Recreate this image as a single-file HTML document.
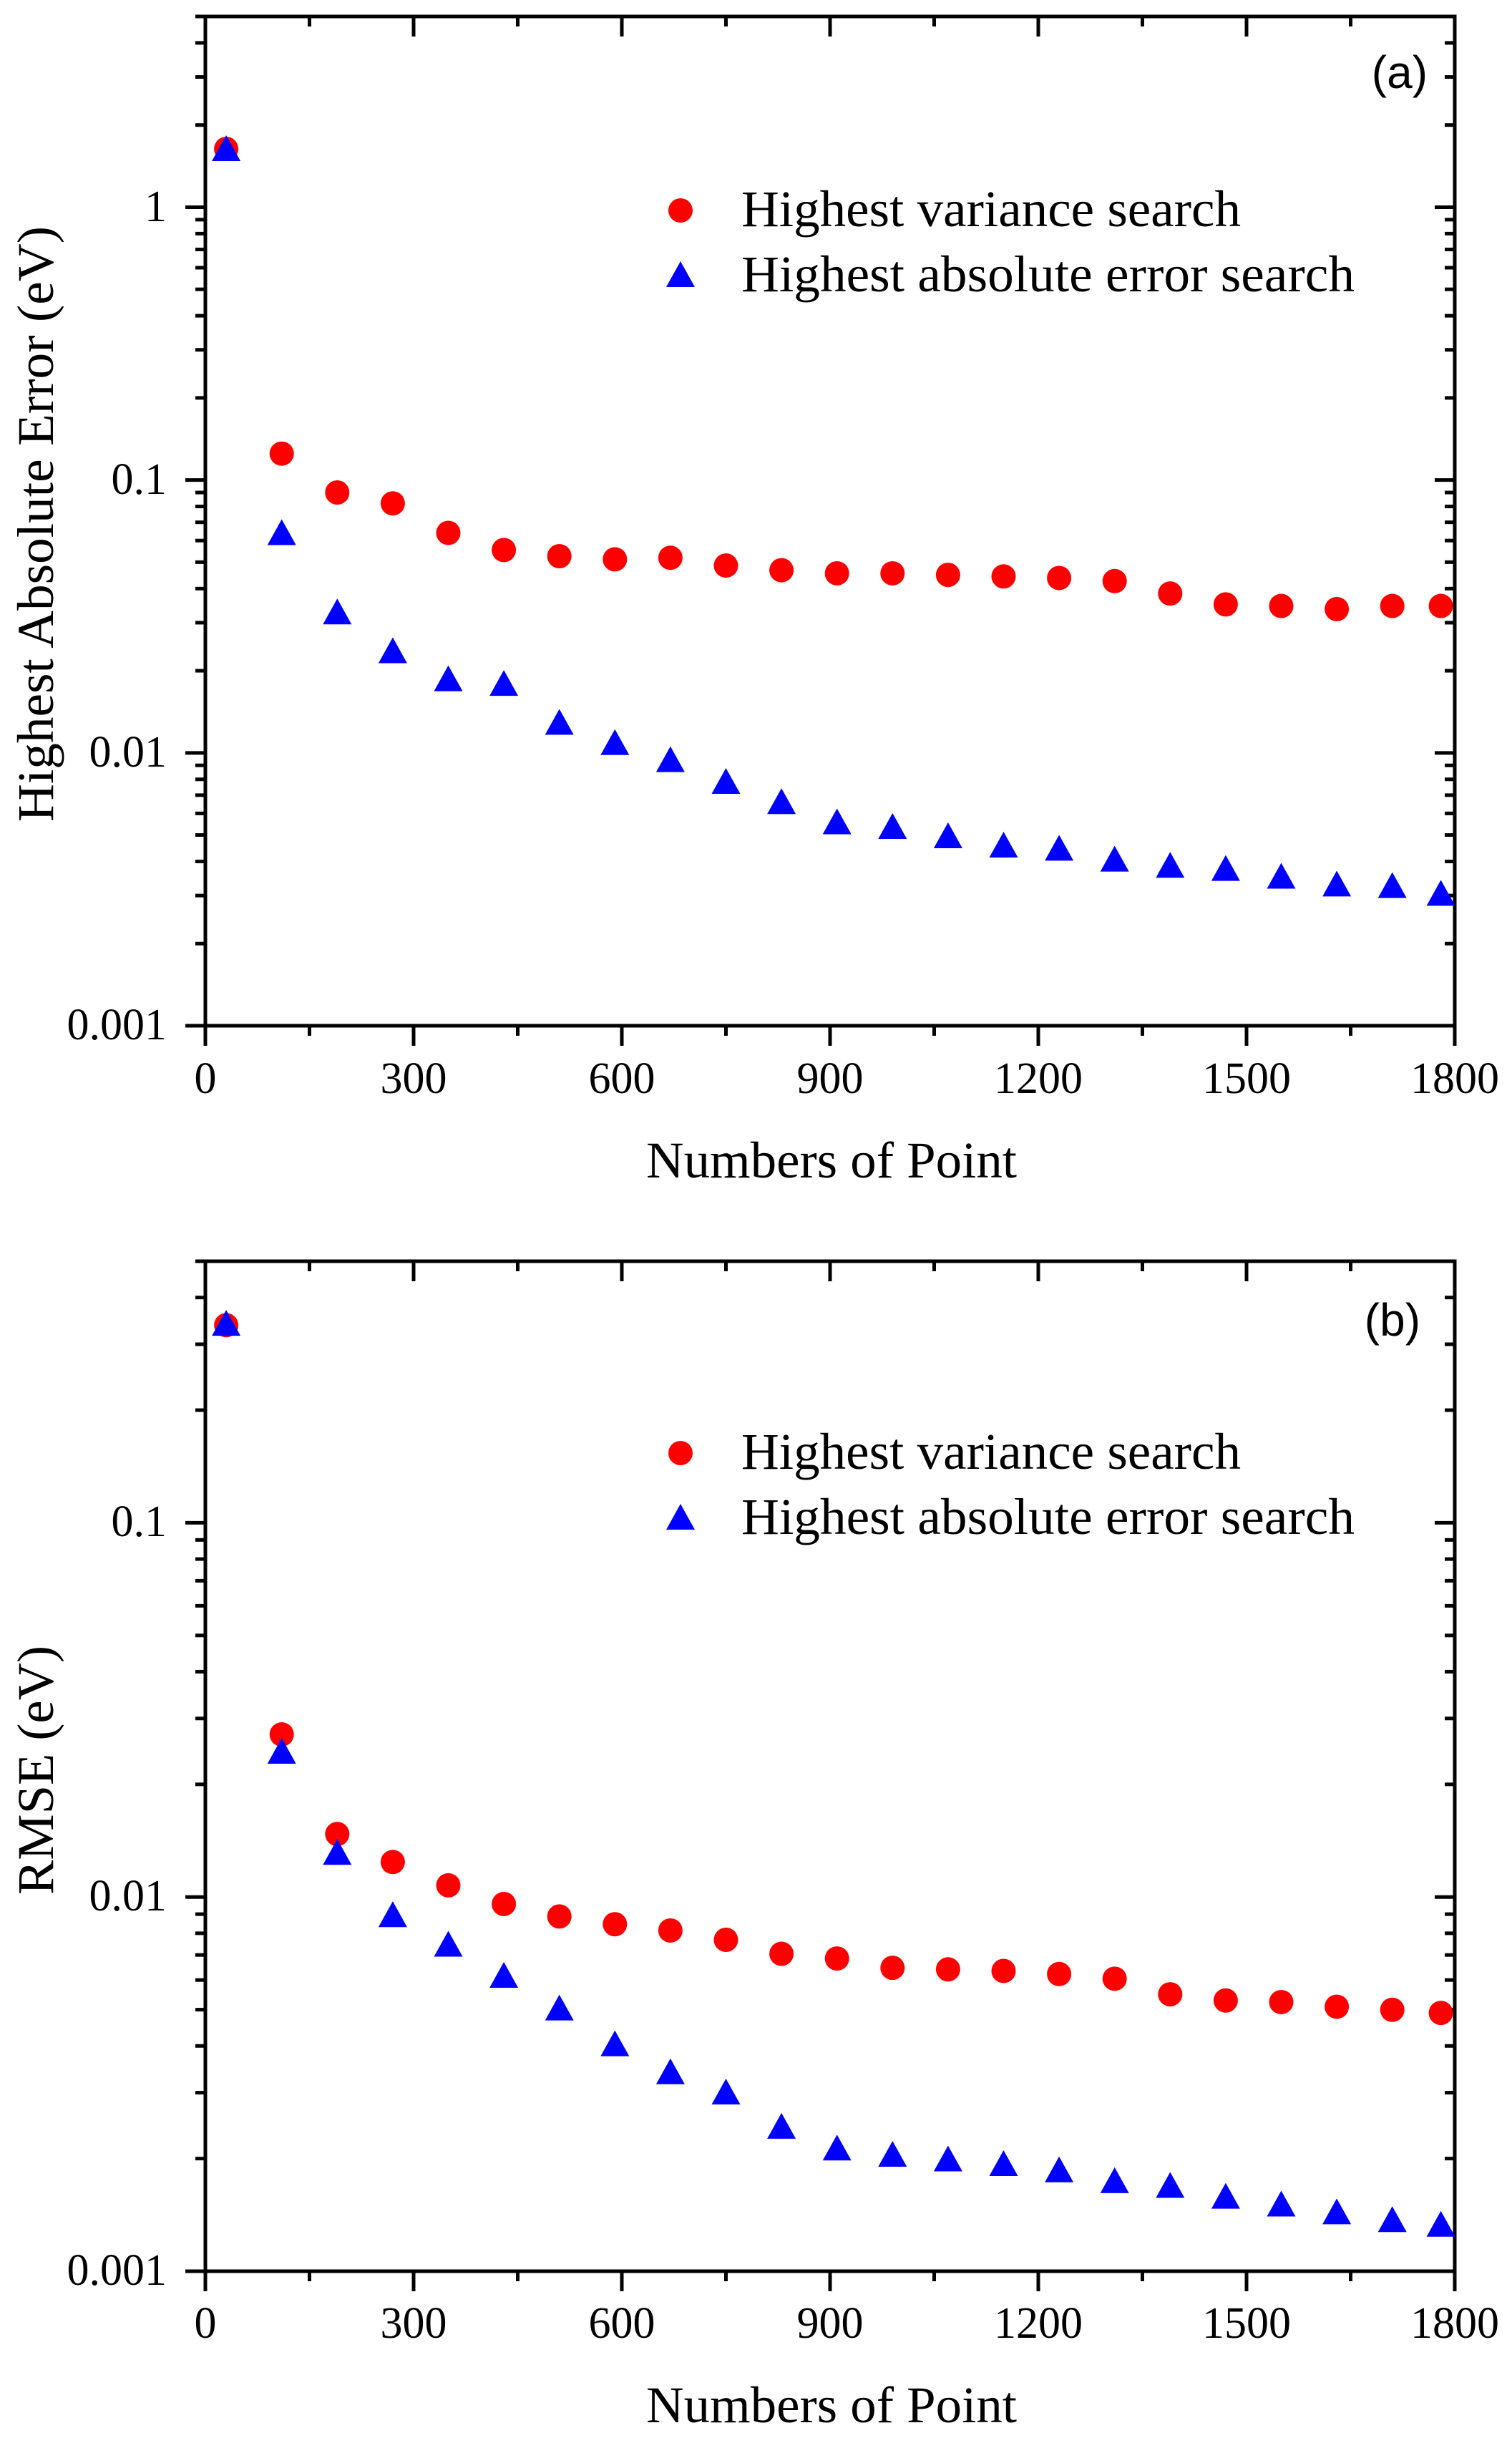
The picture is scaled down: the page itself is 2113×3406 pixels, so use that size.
<!DOCTYPE html>
<html><head><meta charset="utf-8"><style>
html,body{margin:0;padding:0;background:#fff}
svg{display:block}
text{font-family:"Liberation Serif",serif;fill:#000}
</style></head><body>
<svg id="s" width="2113" height="3406" viewBox="0 0 2113 3406" xmlns="http://www.w3.org/2000/svg">
<g id="ga"></g><g id="gb"></g>
<!-- panel a text -->
<g font-size="62" text-anchor="end">
<text x="233" y="1452">0.001</text>
<text x="233" y="1071">0.01</text>
<text x="233" y="690">0.1</text>
<text x="233" y="309">1</text>
</g>
<g font-size="62" text-anchor="middle">
<text x="287" y="1527">0</text><text x="578" y="1527">300</text><text x="869" y="1527">600</text>
<text x="1160" y="1527">900</text><text x="1451" y="1527">1200</text><text x="1742" y="1527">1500</text><text x="2033" y="1527">1800</text>
</g>
<text x="1162" y="1645" font-size="72" text-anchor="middle" textLength="518" lengthAdjust="spacingAndGlyphs">Numbers of Point</text>
<text transform="translate(74,732) rotate(-90)" font-size="72" text-anchor="middle" textLength="832" lengthAdjust="spacingAndGlyphs">Highest Absolute Error (eV)</text>
<text x="1995" y="123" font-size="64" text-anchor="end" style="font-family:'Liberation Sans',sans-serif">(a)</text>
<text x="1036" y="316" font-size="72" textLength="698" lengthAdjust="spacingAndGlyphs">Highest variance search</text>
<text x="1036" y="407" font-size="72" textLength="857" lengthAdjust="spacingAndGlyphs">Highest absolute error search</text>
<!-- panel b text -->
<g font-size="62" text-anchor="end">
<text x="233" y="3192">0.001</text>
<text x="233" y="2669">0.01</text>
<text x="233" y="2146">0.1</text>
</g>
<g font-size="62" text-anchor="middle">
<text x="287" y="3266">0</text><text x="578" y="3266">300</text><text x="869" y="3266">600</text>
<text x="1160" y="3266">900</text><text x="1451" y="3266">1200</text><text x="1742" y="3266">1500</text><text x="2033" y="3266">1800</text>
</g>
<text x="1162" y="3384" font-size="72" text-anchor="middle" textLength="518" lengthAdjust="spacingAndGlyphs">Numbers of Point</text>
<text transform="translate(74,2473) rotate(-90)" font-size="72" text-anchor="middle" textLength="348" lengthAdjust="spacingAndGlyphs">RMSE (eV)</text>
<text x="1985" y="1866" font-size="64" text-anchor="end" style="font-family:'Liberation Sans',sans-serif">(b)</text>
<text x="1036" y="2052" font-size="72" textLength="698" lengthAdjust="spacingAndGlyphs">Highest variance search</text>
<text x="1036" y="2143" font-size="72" textLength="857" lengthAdjust="spacingAndGlyphs">Highest absolute error search</text>
</svg>
<script>
var NS="http://www.w3.org/2000/svg";
function el(g,t,a){var e=document.createElementNS(NS,t);for(var k in a)e.setAttribute(k,a[k]);g.appendChild(e);return e;}
var X0=287,X1=2033;
function xp(v){return X0+(X1-X0)*v/1800;}
function panel(gid,top,bot,ymin,ymax,redT,bluT,thumbBot,thumbDec,legY){
  var g=document.getElementById(gid);
  var lmin=Math.log10(ymin),lmax=Math.log10(ymax);
  function yp(v){return bot-(bot-top)*(Math.log10(v)-lmin)/(lmax-lmin);}
  for(var d=-3;d<=0;d++){for(var m=1;m<=9;m++){var v=m*Math.pow(10,d);if(v<ymin-1e-12||v>ymax+1e-12)continue;
    var y=yp(v),L=(m==1)?28:14;
    el(g,"line",{x1:X0-L,y1:y,x2:X0,y2:y,stroke:"#000","stroke-width":5});
    el(g,"line",{x1:X1-L,y1:y,x2:X1,y2:y,stroke:"#000","stroke-width":5});
  }}
  for(var xv=0;xv<=1800;xv+=150){var x=xp(xv),maj=(xv%300==0),L=maj?28:14;
    el(g,"line",{x1:x,y1:bot,x2:x,y2:bot+L,stroke:"#000","stroke-width":5});
    el(g,"line",{x1:x,y1:top,x2:x,y2:top+L,stroke:"#000","stroke-width":5});
  }
  el(g,"rect",{x:X0,y:top,width:X1-X0,height:bot-top,stroke:"#000","stroke-width":5,fill:"none"});
  var xs=[];for(var i=0;i<22;i++)xs.push(30+80*i);xs.push(1780);
  function val(ty){return Math.pow(10,-3+(thumbBot-ty)/thumbDec);}
  function circ(x,y){el(g,"ellipse",{cx:x,cy:y,rx:17,ry:17,fill:"#f00"});}
  function tri(x,y){el(g,"polygon",{points:(x-20)+","+(y+17)+" "+(x+20)+","+(y+17)+" "+x+","+(y-19),fill:"#00f"});}
  for(var i=0;i<xs.length;i++){circ(xp(xs[i]),yp(val(redT[i])));}
  for(var i=0;i<xs.length;i++){tri(xp(xs[i]),yp(val(bluT[i])));}
  circ(951,legY);tri(951,legY+90);
}
panel("ga",23,1433,0.001,5,
 [95,291,316,323,342,353,357,359,358,363,366,368,368,369,370,371,373,381,388,389,391,389,389],
 [95,342,393,418,436,439,464,477,488,502,515,528,531,537,543,545,552,556,558,563,568,569,574],
 659,175.5,294);
panel("gb",1762,3173,0.001,0.5,
 [852,1115,1179,1197,1212,1224,1232,1237,1241,1247,1256,1259,1265,1266,1267,1269,1272,1282,1286,1287,1290,1292,1294],
 [851,1126,1191,1231,1250,1270,1291,1314,1332,1345,1367,1381,1385,1388,1391,1395,1402,1405,1412,1417,1422,1427,1430],
 1460,240.5,2030);
</script>
</body></html>
